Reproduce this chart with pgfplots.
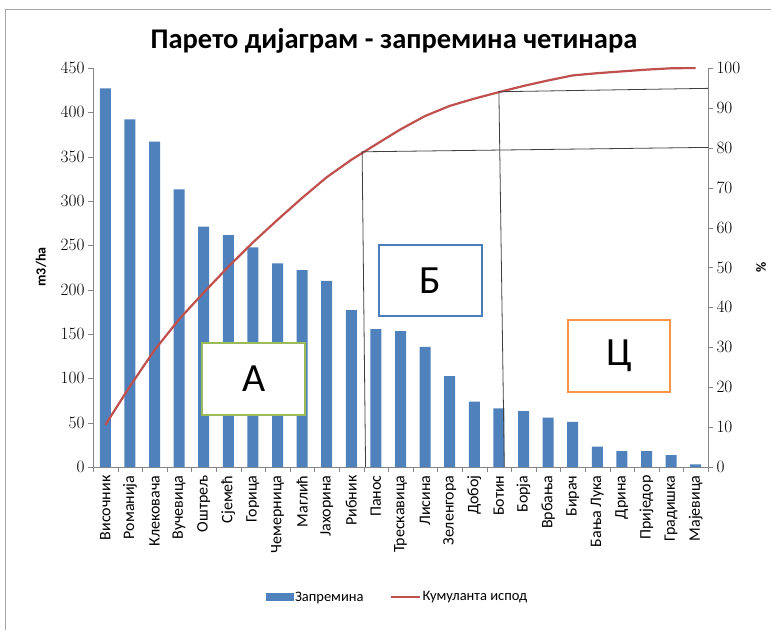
\documentclass[border=0pt]{standalone}
\usepackage{pgfplots}
\usepackage{pgfplotstable}
\pgfplotsset{compat=1.18}
\usepackage{fontspec}
\setmainfont{Carlito}
\definecolor{barblue}{HTML}{4F81BD}
\definecolor{cumred}{HTML}{C0504D}
\definecolor{boxgreen}{HTML}{9BBB59}
\definecolor{boxblue}{HTML}{4A7EBB}
\definecolor{boxorange}{HTML}{F79646}
\definecolor{axgray}{HTML}{868686}

% idx, volume (m3/ha), cumulative share (%)
\pgfplotstableread{
idx vol cum
0  427   10.54
1  392   20.22
2  367   29.29
3  313   37.02
4  271   43.71
5  261.5 50.17
6  247.6 56.28
7  229.6 61.95
8  222   67.43
9  210   72.62
10 177   76.99
11 155.6 80.83
12 153.3 84.62
13 135.6 87.97
14 102.6 90.50
15 73.6  92.32
16 66    93.95
17 63    95.50
18 55.6  96.88
19 51    98.14
20 23    98.70
21 18    99.15
22 18    99.59
23 13.5  99.93
24 3     100
}\data

\pgfplotsset{
  common/.style={
    scale only axis, width=615pt, height=399pt,
    at={(93pt,163pt)}, anchor=south west,
    xmin=-0.5, xmax=24.5, ymin=0,
    axis line style={axgray}, tick style={axgray},
    tick align=outside, major tick length=5pt,
    yticklabel style={font=\fontsize{17}{17}\selectfont},
  }
}

\begin{document}
\begin{tikzpicture}
\path[use as bounding box] (0,0) rectangle (771pt,630pt);
\draw[gray!70] (5pt,0) -- (5pt,621pt) -- (771pt,621pt);
\node[font=\bfseries\fontsize{28.5}{32}\selectfont] at (394pt,589pt) {Парето дијаграм - запремина четинара};
\node[font=\bfseries\fontsize{14}{14}\selectfont, rotate=90] at (41pt,363pt) {m3/ha};
\node[font=\bfseries\fontsize{14}{14}\selectfont, rotate=90] at (761pt,363pt) {\%};

\begin{axis}[common,
  ymax=450, ytick={0,50,...,450},
  axis y line*=left, axis x line*=bottom,
  xtick={0,...,24}, major x tick style={draw=none},
  minor xtick={-0.5,0.5,...,24.5}, minor tick length=5pt,
  xticklabels={Височник,Романија,Клековача,Вучевица,Оштрељ,Сјемећ,Горица,Чемерница,Маглић,Јахорина,Рибник,Панос,Трескавица,Лисина,Зеленгора,Добој,Ботин,Борја,Врбања,Бирач,Бања Лука,Дрина,Приједор,Градишка,Мајевица},
  x tick label style={rotate=90, anchor=east, font=\fontsize{16}{16}\selectfont},
]
\addplot[ybar, bar width=11pt, fill=barblue, draw=none] table[x=idx, y=vol] {\data};
\draw[boxgreen, line width=2.5pt, fill=white] (axis cs:3.93,58.6) rectangle (axis cs:8.12,139.8);
\node[font=\fontsize{40}{40}\selectfont] at (axis cs:6.03,99.2) {А};
\draw[boxblue, line width=2.5pt, fill=white] (axis cs:11.13,170.2) rectangle (axis cs:15.31,250.3);
\node[font=\fontsize{40}{40}\selectfont] at (axis cs:13.22,210.2) {Б};
\draw[boxorange, line width=2.5pt, fill=white] (axis cs:18.81,84.6) rectangle (axis cs:22.96,165.7);
\node[font=\fontsize{40}{40}\selectfont] at (axis cs:20.88,125.1) {Ц};
\end{axis}

\begin{axis}[common,
  ymax=100, ytick={0,10,...,100},
  axis y line*=right, axis x line=none,
  legend style={at={(axis description cs:0.495,-0.326)}, anchor=center, draw=none,
    legend columns=2, font=\fontsize{14.5}{14.5}\selectfont,
    /tikz/every even column/.append style={column sep=24pt}},
]
\addlegendimage{legend image code/.code={\fill[barblue] (0pt,-3.5pt) rectangle (27pt,3.5pt);}}
\addlegendentry{Запремина}
\addplot[cumred, line width=2.2pt, mark=none,
  legend image code/.code={\draw[cumred, line width=2pt] (0pt,0pt) -- (29pt,0pt);}]
  table[x=idx, y=cum] {\data};
\addlegendentry{Кумуланта испод}
\draw[black!75, line width=0.8pt] (axis cs:10.58,0) -- (axis cs:10.44,79) -- (axis cs:24.5,80.1);
\draw[black!75, line width=0.8pt] (axis cs:16.22,0) -- (axis cs:16.0,94.05) -- (axis cs:24.5,94.9);
\end{axis}
\end{tikzpicture}
\end{document}
